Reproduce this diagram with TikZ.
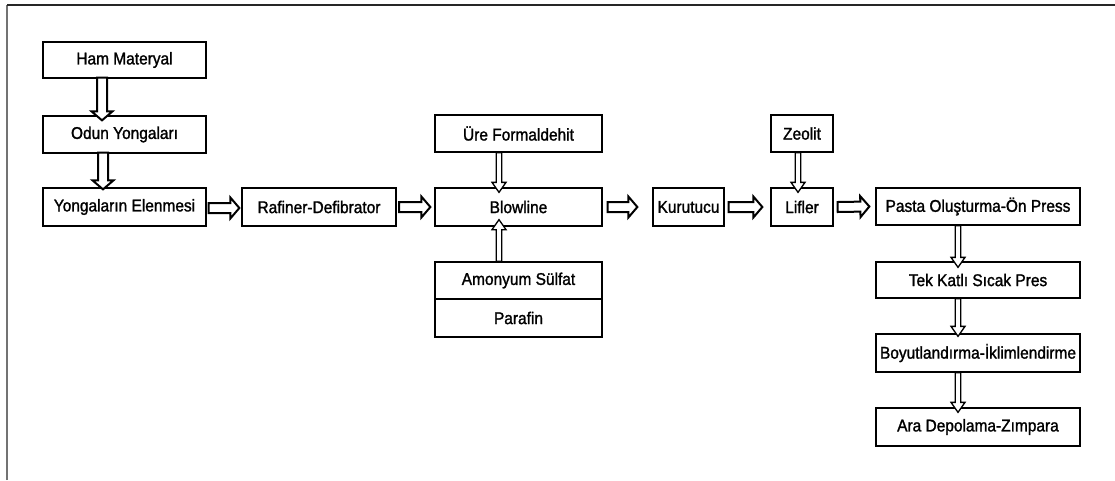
\documentclass[tikz,border=0pt]{standalone}
\usepackage{fontspec}
\setmainfont{Liberation Sans}[FakeBold=1.4,FakeStretch=0.91]
\usetikzlibrary{calc}
\begin{document}
\begin{tikzpicture}[x=1pt,y=-1pt,
  box/.style={draw=black,line width=1.3pt,fill=white,inner sep=0pt,
    font=\fontsize{17}{19}\selectfont},
  blk/.style n args={3}{draw=black,fill=white,line join=miter,
    to path={
      ($(\tikztostart)!#1!90:(\tikztotarget)$) --
      ($(\tikztotarget)!#3!(\tikztostart)!#1!-90:(\tikztostart)$) --
      ($(\tikztotarget)!#3!(\tikztostart)!#2!-90:(\tikztostart)$) --
      (\tikztotarget) --
      ($(\tikztotarget)!#3!(\tikztostart)!#2!90:(\tikztostart)$) --
      ($(\tikztotarget)!#3!(\tikztostart)!#1!90:(\tikztostart)$) --
      ($(\tikztostart)!#1!-90:(\tikztotarget)$) -- cycle}},
  big/.style={blk={5pt}{10.5pt}{9pt},line width=2pt},
  thin/.style={blk={2.8pt}{7pt}{10pt},line width=1.3pt}]
\useasboundingbox (0,0) rectangle (1115,480);
% frame
\draw[line width=1.4pt,black!55] (7,480) -- (7,5);
\draw[line width=1.4pt,black!85] (7,5) -- (1115,5);
% boxes
\node[box,minimum width=163pt,minimum height=36pt] (ham) at (124.5,60) {Ham Materyal};
\node[box,minimum width=163pt,minimum height=37pt] (odun) at (124.5,134.5) {Odun Yongaları};
\node[box,minimum width=163pt,minimum height=38pt] (yong) at (124.5,207) {Yongaların Elenmesi};
\node[box,minimum width=154pt,minimum height=38pt] (raf) at (319,207) {Rafiner-Defibrator};
\node[box,minimum width=167pt,minimum height=38pt] (blow) at (518.5,207) {Blowline};
\node[box,minimum width=167pt,minimum height=37pt] (ure) at (518.5,133.5) {Üre Formaldehit};
\node[box,minimum width=167pt,minimum height=37pt] (amon) at (518.5,280.5) {Amonyum Sülfat};
\node[box,minimum width=167pt,minimum height=38pt] (paraf) at (518.5,318) {Parafin};
\node[box,minimum width=71pt,minimum height=38pt] (kuru) at (688.5,207) {Kurutucu};
\node[box,minimum width=62pt,minimum height=37pt] (zeo) at (802,133.5) {Zeolit};
\node[box,minimum width=62pt,minimum height=38pt] (lif) at (802,207) {Lifler};
\node[box,minimum width=204pt,minimum height=37pt] (pasta) at (978,206.5) {Pasta Oluşturma-Ön Press};
\node[box,minimum width=204pt,minimum height=36pt] (tek) at (978,280) {Tek Katlı Sıcak Pres};
\node[box,minimum width=204pt,minimum height=38pt] (boy) at (978,353) {Boyutlandırma-İklimlendirme};
\node[box,minimum width=204pt,minimum height=38pt] (ara) at (978,427) {Ara Depolama-Zımpara};
% big arrows
\draw[big] ([xshift=-22.5pt,yshift=1pt]ham.south) to ([xshift=-22.5pt,yshift=-5pt]odun.north);
\draw[big] ([xshift=-21.5pt,yshift=1pt]odun.south) to ([xshift=-21.5pt,yshift=-2pt]yong.north);
\draw[big] ([xshift=2pt,yshift=-1pt]yong.east) to ([xshift=-2pt,yshift=-1pt]raf.west);
\draw[big] ([xshift=2.5pt]raf.east) to ([xshift=-4pt]blow.west);
\draw[big] ([xshift=5pt]blow.east) to ([xshift=-15pt]kuru.west);
\draw[big] ([xshift=4pt]kuru.east) to ([xshift=-8pt]lif.west);
\draw[big] ([xshift=4pt]lif.east) to ([xshift=-6pt]pasta.west);
% thin arrows
\draw[thin] ([xshift=-19.5pt]ure.south) to ([xshift=-19.5pt,yshift=-5pt]blow.north);
\draw[thin] ([xshift=-19.5pt]amon.north) to ([xshift=-19.5pt,yshift=7pt]blow.south);
\draw[thin] ([xshift=-4pt]zeo.south) to ([xshift=-4pt,yshift=-5pt]lif.north);
\draw[thin] ([xshift=-20pt]pasta.south) to ([xshift=-20pt,yshift=-6pt]tek.north);
\draw[thin] ([xshift=-20pt]tek.south) to ([xshift=-20pt,yshift=-3pt]boy.north);
\draw[thin] ([xshift=-20pt]boy.south) to ([xshift=-20pt,yshift=-5pt]ara.north);
\end{tikzpicture}
\end{document}
